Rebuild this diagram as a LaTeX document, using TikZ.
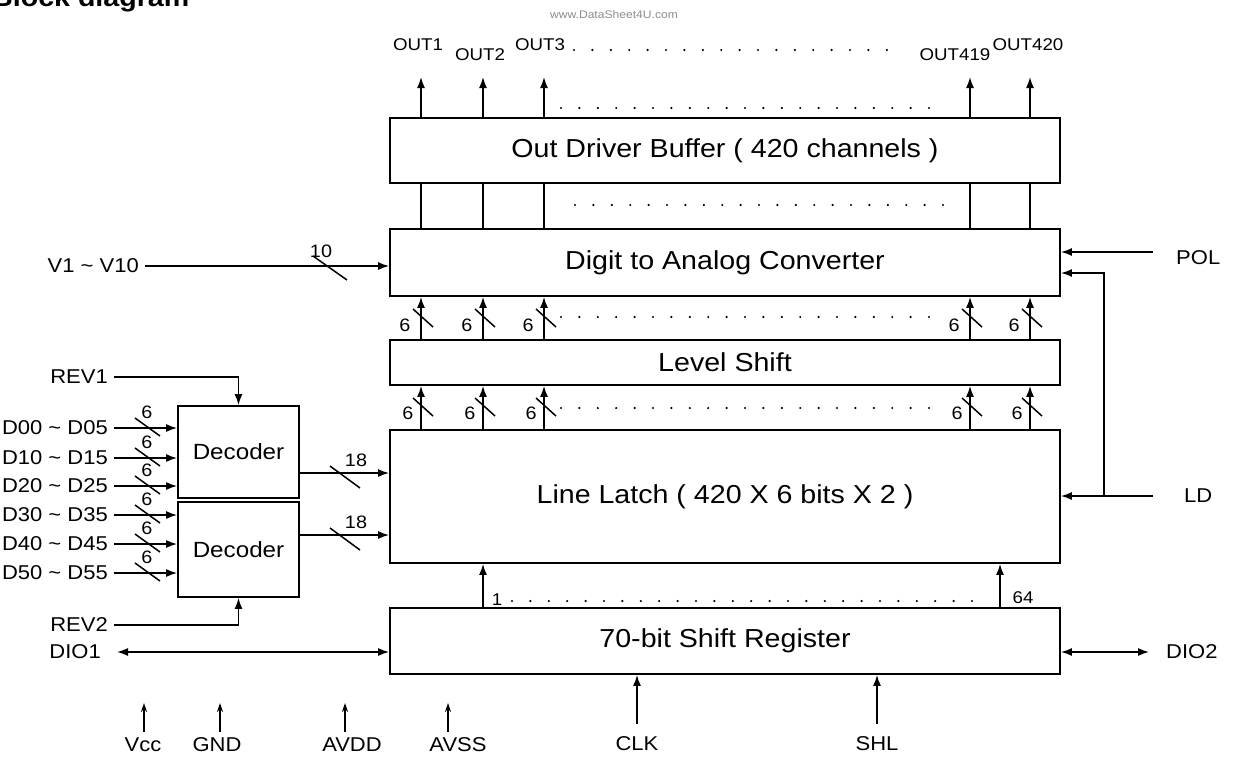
\documentclass[tikz,border=0pt]{standalone}
\usepackage{fontspec}
\setmainfont{Liberation Sans}[FakeStretch=1.1]
\usetikzlibrary{arrows.meta,positioning}

\tikzset{
  blk/.style={draw,line width=1.8pt,minimum width=670pt,inner sep=0pt,font=\fontsize{26}{30}\selectfont},
  dec/.style={draw,line width=1.8pt,minimum width=121pt,inner sep=0pt,font=\fontsize{22}{26}\selectfont},
  lbl/.style={inner xsep=6pt,inner ysep=3pt,font=\fontsize{20}{24}\selectfont},
  olbl/.style={inner sep=2pt,font=\fontsize{17}{20}\selectfont},
  num/.style={inner sep=1pt,font=\fontsize{18}{21}\selectfont},
  wire/.style={line width=1.5pt},
  bus/.style={line width=1.5pt},
  arr/.style={line width=1.5pt,-{Latex[length=11pt,width=8pt]}},
  darr/.style={line width=1.5pt,{Latex[length=11pt,width=8pt]}-{Latex[length=11pt,width=8pt]}},
  parr/.style={line width=1.1pt,-{Stealth[length=9pt,width=6pt]}},
  dots/.style={line width=2.4pt,line cap=round,dash pattern=on 0pt off 18.4pt}
}

\begin{document}
\begin{tikzpicture}[x=1pt,y=-1pt]
  \useasboundingbox (0,0) rectangle (1237,756);
  % heading and watermark
  \node[anchor=base west,inner sep=0pt,font=\bfseries\fontsize{26}{30}\selectfont] (title) at (-8,6) {Block diagram};
  \node[inner sep=0pt,text=black!45,font=\fontsize{11}{13}\selectfont] (wm) at (614,15) {www.DataSheet4U.com};

  % main blocks
  \node[blk,minimum height=65pt] (odb) at (725,150.5) {Out Driver Buffer ( 420 channels )};
  \node[blk,minimum height=67pt] (dac) at (725,262.5) {Digit to Analog Converter};
  \node[blk,minimum height=45pt] (lvl) at (725,362.5) {Level Shift};
  \node[blk,minimum height=133pt] (latch) at (725,496.5) {Line Latch ( 420 X 6 bits X 2 )};
  \node[blk,minimum height=66pt] (sreg) at (725,641) {70-bit Shift Register};
  \node[dec,minimum height=92pt] (dec1) at (238.5,452) {Decoder};
  \node[dec,minimum height=95pt] (dec2) at (238.5,549.5) {Decoder};

  % channels: outputs, wires and 6-bit buses
  \foreach \x/\lx/\ly/\t [count=\i] in {421/418/45/OUT1,483/480/55/OUT2,544/540/45/OUT3,970/955/55/OUT419,1030/1028/45/OUT420}
  {
    \coordinate (ch\i) at (\x,77);
    \node[olbl] (out\i) at (\lx,\ly) {\t};
    \draw[arr] (odb.north -| ch\i) -- (ch\i);
    \draw[wire] (odb.south -| ch\i) -- (dac.north -| ch\i);
    \draw[arr] (lvl.north -| ch\i) -- (dac.south -| ch\i);
    \draw[arr] (latch.north -| ch\i) -- (lvl.south -| ch\i);
    \draw[bus] (\x-8,309) -- (\x+12,327);
    \draw[bus] (\x-8,398) -- (\x+12,416);
    \node[num] (nu\i) at (\x-16,325) {6};
    \node[num] (nl\i) at (\x-13,413) {6};
  }
  \draw[dots] (574,50) -- (900,50);
  \draw[dots] (561,108) -- (936,108);
  \draw[dots] (575,205) -- (945,205);
  \draw[dots] (561,317) -- (936,317);
  \draw[dots] (561,408) -- (936,408);

  % reference voltages
  \node[lbl,anchor=east] (vref) at (145,266) {V1 \textasciitilde{} V10};
  \draw[arr] (vref.east) -- (dac.west |- vref.east);
  \draw[bus] (313,256) -- (347,280);
  \node[num] (n10) at (321,251) {10};

  % POL and LD
  \coordinate (polin) at (1153,252);
  \node[lbl,anchor=west] (pol) at (1170,258) {POL};
  \draw[arr] (polin) -- (dac.east |- polin);
  \coordinate (ldin) at (1153,496);
  \coordinate (ldj) at (1104,496);
  \coordinate (ldup) at (1104,273);
  \node[lbl,anchor=west] (ld) at (1178,496) {LD};
  \draw[arr] (ldin) -- (latch.east |- ldin);
  \draw[arr] (ldj) -- (ldup) -- (dac.east |- ldup);

  % data inputs to the decoders
  \node[lbl,anchor=east] (rev1) at (114,377) {REV1};
  \draw[arr] (rev1.east) -| (dec1.north);
  \node[lbl,anchor=east] (rev2) at (114,625) {REV2};
  \draw[arr] (rev2.east) -| (dec2.south);
  \foreach \y/\t [count=\i] in {428/D00 \textasciitilde{} D05,458/D10 \textasciitilde{} D15,486/D20 \textasciitilde{} D25}
  {
    \node[lbl,anchor=east] (da\i) at (114,\y) {\t};
    \draw[arr] (da\i.east) -- (dec1.west |- da\i.east);
    \draw[bus] (135,\y-10) -- (160,\y+8);
    \node[num] (nda\i) at (147,\y-16) {6};
  }
  \foreach \y/\t [count=\i] in {515/D30 \textasciitilde{} D35,544/D40 \textasciitilde{} D45,573/D50 \textasciitilde{} D55}
  {
    \node[lbl,anchor=east] (db\i) at (114,\y) {\t};
    \draw[arr] (db\i.east) -- (dec2.west |- db\i.east);
    \draw[bus] (135,\y-10) -- (160,\y+8);
    \node[num] (ndb\i) at (147,\y-16) {6};
  }

  % decoder outputs, 18 bits each
  \coordinate (b1) at (0,473);
  \coordinate (b2) at (0,535);
  \draw[arr] (dec1.east |- b1) -- (latch.west |- b1);
  \draw[arr] (dec2.east |- b2) -- (latch.west |- b2);
  \draw[bus] (330,466) -- (360,488);
  \draw[bus] (330,528) -- (360,550);
  \node[num] (n18a) at (356,460) {18};
  \node[num] (n18b) at (356,522) {18};

  % shift register
  \coordinate (s1) at (483,0);
  \coordinate (s64) at (1000,0);
  \draw[arr] (sreg.north -| s1) -- (latch.south -| s1);
  \draw[arr] (sreg.north -| s64) -- (latch.south -| s64);
  \node[olbl] (n1) at (497,600) {1};
  \node[olbl] (n64) at (1023,598) {64};
  \draw[dots] (512,601) -- (985,601);

  \node[lbl,anchor=east] (dio1) at (107,652) {DIO1};
  \draw[darr,shorten <=10pt] (dio1.east) -- (sreg.west |- dio1.east);
  \coordinate (dio2end) at (1149,652);
  \node[lbl,anchor=west] (dio2) at (1160,652) {DIO2};
  \draw[darr] (sreg.east |- dio2end) -- (dio2end);

  \node[lbl] (clk) at (637,744) {CLK};
  \node[lbl] (shl) at (877,744) {SHL};
  \draw[arr,shorten <=10pt] (clk.north) -- (sreg.south -| clk.north);
  \draw[arr,shorten <=10pt] (shl.north) -- (sreg.south -| shl.north);

  % supplies
  \foreach \x/\lx/\n/\t in {144/143/vcc/Vcc,220/217/gnd/GND,345/352/avdd/AVDD,448/458/avss/AVSS}
  {
    \node[lbl] (\n) at (\lx,745) {\t};
    \coordinate (\n top) at (\x,703);
    \draw[parr,shorten <=3pt] (\n.north -| \n top) -- (\n top);
  }
\end{tikzpicture}
\end{document}
